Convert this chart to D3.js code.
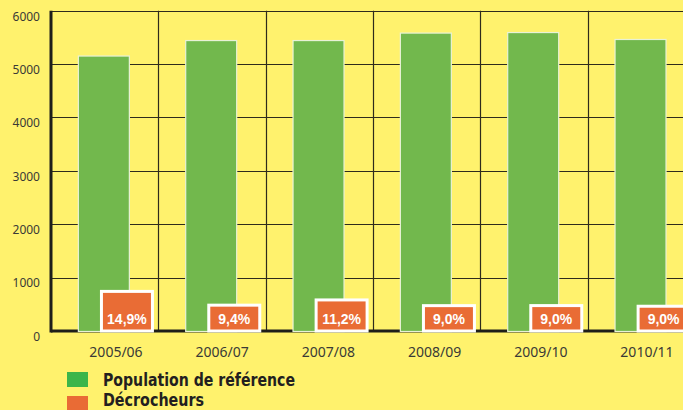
<!DOCTYPE html>
<html>
<head>
<meta charset="utf-8">
<script src="https://cdn.jsdelivr.net/npm/d3@7"></script>
<style>
  body { margin: 0; background: #fff26d; overflow: hidden; }
  .tick-y { font-family: "Noto Sans", sans-serif; font-size: 12px; fill: #3a3a36; }
  .tick-x { font-family: "Noto Sans", sans-serif; font-size: 14px; fill: #3a3a36; }
  .pct { font-family: "Liberation Sans", Arial, sans-serif; font-size: 14px; font-weight: bold; fill: #fff; }
  .legend { font-family: "DejaVu Sans Condensed", "DejaVu Sans", sans-serif; font-size: 18px; font-weight: bold; fill: #231f20; }
</style>
</head>
<body>
<div id="chart"></div>
<script>
// data
var years = ["2005/06", "2006/07", "2007/08", "2008/09", "2009/10", "2010/11"];
var population = [5160, 5450, 5450, 5590, 5600, 5470];
var decrocheurs = [770, 512, 610, 503, 504, 492];
var pctLabels = ["14,9%", "9,4%", "11,2%", "9,0%", "9,0%", "9,0%"];
var yTicks = [0, 1000, 2000, 3000, 4000, 5000, 6000];
var legendLabels = ["Population de référence", "Décrocheurs"];

var svgWidth = 683;
var svgHeight = 410;

var svg = d3.select("#chart")
  .append("svg")
  .attr("width", svgWidth)
  .attr("height", svgHeight);

svg.append("rect")
  .attr("width", svgWidth)
  .attr("height", svgHeight)
  .attr("fill", "#fff26d");

var xScale = d3.scaleBand()
  .domain(years)
  .range([51, 695])
  .padding(0);

var yScale = d3.scaleLinear()
  .domain([0, 6000])
  .range([331, 10.7]);

// category labels sit a bit right of the band centres
var labelScale = d3.scalePoint()
  .domain(years)
  .range([116, 647]);

var bw = xScale.bandwidth();

// horizontal grid
svg.append("g")
  .selectAll("line")
  .data(yTicks.filter(d => d > 0))
  .enter()
  .append("line")
  .attr("x1", 51)
  .attr("x2", 695)
  .attr("y1", d => Math.round(yScale(d)) + 0.5)
  .attr("y2", d => Math.round(yScale(d)) + 0.5)
  .attr("stroke", "#2e2b1c")
  .attr("stroke-width", 1.2);

// vertical grid at band edges
svg.append("g")
  .selectAll("line")
  .data(years.slice(1))
  .enter()
  .append("line")
  .attr("x1", d => Math.round(xScale(d)) + 0.5)
  .attr("x2", d => Math.round(xScale(d)) + 0.5)
  .attr("y1", yScale(6000))
  .attr("y2", yScale(0))
  .attr("stroke", "#2e2b1c")
  .attr("stroke-width", 1.2);

// axes lines
svg.append("line")
  .attr("x1", 51).attr("x2", 695)
  .attr("y1", yScale(0)).attr("y2", yScale(0))
  .attr("stroke", "#1e1e1a")
  .attr("stroke-width", 3);

svg.append("line")
  .attr("x1", 51).attr("x2", 51)
  .attr("y1", yScale(6000)).attr("y2", yScale(0) + 1.5)
  .attr("stroke", "#1e1e1a")
  .attr("stroke-width", 3);

// y tick labels, set just under each grid line
svg.append("g")
  .selectAll("text")
  .data(yTicks)
  .enter()
  .append("text")
  .attr("class", "tick-y")
  .attr("x", 40)
  .attr("y", d => yScale(d) + 9.8)
  .attr("text-anchor", "end")
  .text(d => d);

// x labels
svg.append("g")
  .selectAll("text")
  .data(years)
  .enter()
  .append("text")
  .attr("class", "tick-x")
  .attr("x", d => labelScale(d))
  .attr("y", 357)
  .attr("text-anchor", "middle")
  .text(d => d);

// population bars
svg.append("g")
  .selectAll("rect")
  .data(population)
  .enter()
  .append("rect")
  .attr("x", (d, i) => xScale(years[i]) + bw * 0.255)
  .attr("y", d => yScale(d) + 0.5)
  .attr("width", bw * 0.475)
  .attr("height", d => yScale(0) - yScale(d))
  .attr("fill", "#72b84d")
  .attr("stroke", "#e8f2d6")
  .attr("stroke-width", 1.2);

// decrocheurs boxes
svg.append("g")
  .selectAll("rect")
  .data(decrocheurs)
  .enter()
  .append("rect")
  .attr("x", (d, i) => xScale(years[i]) + bw * 0.47)
  .attr("y", d => yScale(d) + 1.5)
  .attr("width", bw * 0.475)
  .attr("height", d => yScale(0) - yScale(d) - 1.5)
  .attr("fill", "#e96c35")
  .attr("stroke", "#ffffff")
  .attr("stroke-width", 3);

svg.append("g")
  .selectAll("text")
  .data(pctLabels)
  .enter()
  .append("text")
  .attr("class", "pct")
  .attr("x", (d, i) => xScale(years[i]) + bw * 0.7075)
  .attr("y", yScale(0) - 7.5)
  .attr("text-anchor", "middle")
  .text(d => d);

// legend
var legendColors = ["#3cb54a", "#e96b35"];
var legend = svg.append("g");

legend.selectAll("rect")
  .data(legendLabels)
  .enter()
  .append("rect")
  .attr("x", 67)
  .attr("y", (d, i) => 372 + i * 24)
  .attr("width", 21)
  .attr("height", 15)
  .attr("fill", (d, i) => legendColors[i]);

legend.selectAll("text")
  .data(legendLabels)
  .enter()
  .append("text")
  .attr("class", "legend")
  .attr("x", 103)
  .attr("y", (d, i) => 386 + i * 20)
  .attr("textLength", (d, i) => i == 0 ? 192 : 101)
  .attr("lengthAdjust", "spacingAndGlyphs")
  .text(d => d);
</script>
</body>
</html>
